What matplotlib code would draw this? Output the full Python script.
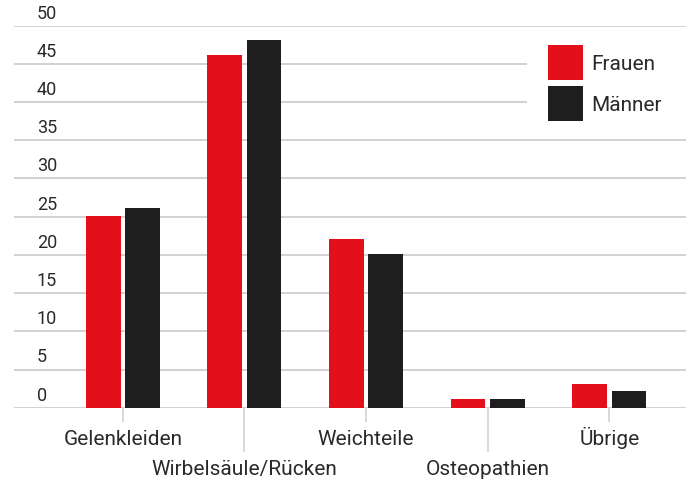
import numpy as np
import matplotlib
matplotlib.use("Agg")
import matplotlib.pyplot as plt
from matplotlib.patches import Rectangle

plt.rcParams['font.family'] = ['Roboto', 'DejaVu Sans']

kategorien = ["Gelenkleiden", "Wirbelsäule/Rücken", "Weichteile", "Osteopathien", "Übrige"]
frauen = [25.1, 46.1, 22.1, 1.1, 3.1]
maenner = [26.1, 48.1, 20.1, 1.1, 2.2]
y_ticks = [0, 5, 10, 15, 20, 25, 30, 35, 40, 45, 50]
serien = ["Frauen", "Männer"]

rot = "#e30f1b"
schwarz = "#1e1e1e"
grau = "#d2d2d2"
textfarbe = "#2a2a2a"

W, H = 694, 481
fig = plt.figure(figsize=(W / 100, H / 100), dpi=100)
ax = fig.add_axes([14 / W, (H - 408.7) / H, 672 / W, 382 / H])

x = np.arange(len(kategorien))
breite = 0.285
versatz = 0.161
ax.bar(x - versatz, frauen, breite, color=rot, label=serien[0], zorder=3)
ax.bar(x + versatz, maenner, breite, color=schwarz, label=serien[1], zorder=3)

ax.set_xlim(-0.894, 4.63)
ax.set_ylim(0, 50)

for s in ax.spines.values():
    s.set_visible(False)

ax.set_yticks(y_ticks)
ax.yaxis.grid(True, color=grau, linewidth=1.4, zorder=0)
ax.tick_params(axis='y', length=0, labelleft=False)
for v in y_ticks:
    ax.annotate(str(v), xy=(23 / 672, v), xycoords=ax.get_yaxis_transform(),
                xytext=(0, 3), textcoords='offset points',
                ha='left', va='bottom', fontsize=13, color=textfarbe)

# Kategorien: abwechselnd kurze und lange Teilstriche
ax.set_xticks(x[::2])
ax.set_xticklabels(kategorien[::2])
ax.set_xticks(x[1::2], minor=True)
ax.set_xticklabels(kategorien[1::2], minor=True)
ax.tick_params(axis='x', which='major', length=10.3, width=1.2, color=grau,
               pad=16, labelsize=15, labelcolor=textfarbe)
ax.tick_params(axis='x', which='minor', length=31.5, width=1.2, color=grau,
               pad=16.3, labelsize=15, labelcolor=textfarbe)
for lab in ax.get_xticklabels(which='both'):
    lab.set_verticalalignment('baseline')

# Legende (weisser Kasten ueber den Gitterlinien)
def px(xp, yp):
    return xp / W, 1 - yp / H

fig.patches.append(Rectangle(px(527, 130), 159 / W, 90 / H, transform=fig.transFigure,
                             facecolor='white', edgecolor='none', zorder=4))
for i, (name, farbe) in enumerate(zip(serien, [rot, schwarz])):
    top = 46 + i * 41.3
    fig.patches.append(Rectangle(px(548, top + 35), 35 / W, 35 / H,
                                 transform=fig.transFigure, facecolor=farbe,
                                 edgecolor='none', zorder=5))
    fx, fy = px(591, top + 18)
    fig.text(fx, fy, name, ha='left', va='center', fontsize=15,
             color=textfarbe, zorder=6)

fig.savefig("out.png", dpi=100)
